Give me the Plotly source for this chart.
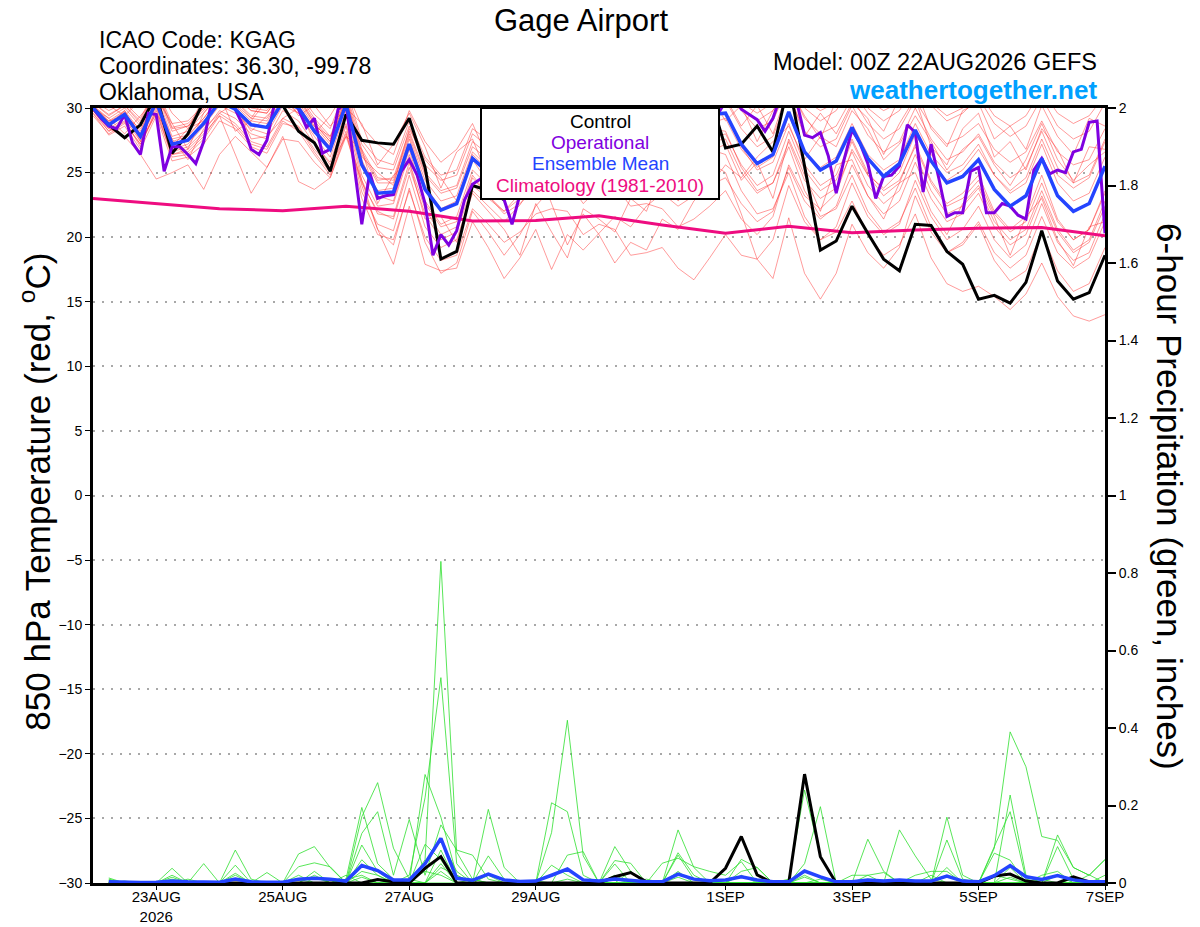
"""
GEFS meteogram - 850 hPa temperature and 6-hour precipitation at Gage Airport (KGAG)
"""
import plotly.graph_objects as go
import pandas as pd

# time axes: GEFS 6-hourly from the 00Z analysis, GFS operational 3-hourly
times = pd.date_range('2026-08-22 00:00', periods=65, freq='6h')
op_times = pd.date_range('2026-08-22 00:00', periods=129, freq='3h')
precip_times = times[1:]
clim_times = pd.date_range('2026-08-22 00:00', periods=17, freq='1D')

tick_dates = ['2026-08-23', '2026-08-25', '2026-08-27', '2026-08-29',
              '2026-09-01', '2026-09-03', '2026-09-05', '2026-09-07']
tick_text = ['23AUG<br>2026', '25AUG', '27AUG', '29AUG', '1SEP', '3SEP', '5SEP', '7SEP']

# 850 hPa temperature (C)
control_temp = [30.0, 28.7, 27.7, 28.7, 31.0, 26.5, 28.0, 30.5, 31.5, 31.0, 31.5, 31.0, 30.2,
                28.2, 27.3, 25.1, 29.5, 27.5, 27.3, 27.2, 29.2, 25.4, 18.3, 18.9, 24.0, 23.6,
                22.9, 24.5, 27.0, 29.0, 30.5, 28.0, 29.5, 30.5, 29.0, 30.5, 31.0, 29.5, 30.0,
                31.0, 26.9, 27.2, 28.6, 26.6, 32.0, 25.5, 19.0, 19.7, 22.4, 20.3, 18.3, 17.4,
                21.0, 20.9, 18.9, 17.9, 15.2, 15.5, 14.9, 16.5, 20.5, 16.6, 15.2, 15.7, 18.6]

mean_temp = [30.0, 28.7, 29.5, 27.8, 30.5, 27.2, 27.5, 28.8, 30.5, 29.9, 28.7, 28.5, 30.5,
             30.0, 28.2, 26.8, 30.3, 25.6, 23.4, 23.5, 27.2, 23.7, 22.1, 22.6, 26.1, 25.0,
             24.0, 25.0, 26.5, 27.5, 28.0, 27.0, 28.5, 29.0, 28.0, 29.0, 29.5, 28.5, 29.0,
             29.5, 29.6, 27.2, 25.7, 26.4, 29.7, 26.6, 25.2, 25.9, 28.5, 26.1, 24.7, 25.7,
             28.3, 25.9, 24.2, 24.7, 26.0, 23.7, 22.4, 23.2, 26.1, 23.2, 22.0, 22.6, 25.5]

oper_temp = [30.0, 29.2, 28.6, 28.4, 29.5, 27.3, 26.4, 29.6, 29.5, 25.1, 27.0, 27.0, 26.4,
             25.7, 27.4, 30.5, 31.0, 31.0, 29.9, 28.6, 26.8, 26.4, 27.5, 30.5, 31.0, 31.0,
             29.9, 28.5, 29.2, 26.5, 26.8, 29.9, 30.4, 25.8, 21.0, 25.0, 23.0, 23.2, 23.3,
             25.1, 26.0, 24.8, 22.6, 18.6, 20.2, 19.4, 20.5, 22.9, 24.1, 24.5, 24.0, 23.6,
             22.9, 21.0, 23.3, 24.5, 25.5, 26.0, 27.0, 25.5, 26.5, 28.0, 29.0, 27.5, 26.5,
             27.0, 28.5, 29.5, 30.5, 29.0, 28.0, 28.5, 29.5, 30.5, 31.0, 30.0, 29.0, 28.0,
             28.5, 29.5, 30.5, 31.0, 29.9, 29.5, 29.1, 28.2, 29.2, 31.0, 31.0, 30.5, 27.9,
             27.7, 28.1, 26.3, 23.4, 26.0, 28.3, 27.3, 25.7, 23.0, 24.7, 24.8, 25.5, 28.7,
             28.1, 23.5, 27.2, 24.5, 21.6, 21.9, 21.9, 25.1, 25.4, 21.9, 21.9, 22.6, 22.4,
             21.7, 21.4, 25.2, 26.1, 24.9, 25.2, 25.0, 26.6, 26.8, 28.9, 29.0, 20.3]

clim_temp = [23.0, 22.6, 22.2, 22.05, 22.4, 22.0, 21.25, 21.3, 21.65, 20.95, 20.3, 20.85,
             20.35, 20.55, 20.7, 20.75, 20.1]

# ensemble members (subset of the 30 perturbations)
member_temps = [
    [30.4, 29.5, 30.2, 29.0, 31.5, 28.5, 28.8, 30.0, 31.5, 31.0, 30.0, 29.8, 31.8, 31.2, 29.5, 28.4,
     31.6, 27.5, 26.0, 25.6, 29.0, 26.2, 24.8, 25.2, 28.4, 27.5, 26.8, 27.8, 29.0, 30.2, 30.8, 29.8,
     31.0, 31.5, 30.5, 31.2, 31.8, 30.6, 31.2, 31.5, 31.6, 29.8, 28.4, 29.0, 31.8, 29.2, 28.0, 28.6,
     30.8, 28.8, 27.6, 28.4, 30.6, 28.6, 27.2, 27.8, 28.8, 26.8, 25.8, 26.6, 29.0, 26.6, 25.6, 26.0, 28.4],
    [29.6, 27.9, 28.6, 26.8, 29.4, 25.9, 26.2, 27.2, 29.0, 28.4, 27.0, 26.5, 28.8, 28.5, 26.6, 25.0,
     28.6, 23.5, 21.0, 20.5, 24.8, 20.8, 19.2, 19.8, 23.6, 22.4, 21.2, 22.5, 24.4, 25.8, 26.6, 25.6,
     27.5, 28.4, 27.6, 28.8, 29.6, 28.8, 29.5, 30.2, 30.6, 28.4, 27.0, 27.8, 31.0, 28.2, 27.0, 27.6,
     30.2, 27.9, 26.6, 27.4, 30.0, 27.6, 26.0, 26.6, 28.0, 25.8, 24.6, 25.4, 28.2, 25.4, 24.2, 24.8, 27.6],
    [29.8, 28.2, 29.0, 27.0, 30.0, 26.4, 26.6, 27.8, 29.6, 28.8, 27.4, 27.0, 29.2, 28.6, 26.8, 25.4,
     28.8, 24.0, 20.6, 19.4, 23.8, 19.6, 17.2, 18.0, 22.0, 20.4, 18.6, 20.2, 22.4, 23.8, 24.6, 23.4,
     25.2, 26.0, 25.0, 26.2, 27.0, 26.0, 26.8, 27.6, 28.0, 25.6, 24.0, 24.8, 28.2, 25.2, 23.6, 24.4,
     27.4, 24.8, 23.2, 24.2, 27.2, 24.4, 22.6, 23.4, 24.8, 22.0, 20.6, 21.6, 24.8, 21.4, 19.8, 20.6, 23.6],
    [30.0, 28.8, 29.6, 28.0, 30.6, 27.4, 27.8, 29.2, 30.8, 30.2, 29.0, 28.8, 30.8, 30.2, 28.4, 27.0,
     30.4, 25.8, 23.6, 23.8, 27.6, 24.0, 22.2, 22.8, 26.4, 25.2, 24.0, 25.2, 26.8, 27.6, 28.0, 26.8,
     28.2, 28.4, 27.0, 27.6, 27.8, 26.4, 26.6, 26.8, 26.4, 23.6, 21.8, 22.2, 25.0, 21.6, 19.8, 20.4,
     22.8, 20.2, 18.6, 19.4, 21.8, 18.4, 16.4, 15.8, 16.2, 15.4, 14.4, 15.6, 18.0, 15.4, 13.9, 13.5, 14.0],
    [30.2, 29.0, 29.8, 28.2, 31.0, 27.8, 28.2, 29.6, 31.2, 30.6, 29.4, 29.2, 31.2, 30.6, 28.8, 27.4,
     30.8, 26.0, 23.2, 22.8, 26.8, 22.6, 20.8, 21.2, 24.8, 23.2, 21.8, 22.6, 23.8, 24.2, 24.4, 22.6,
     23.8, 24.0, 22.4, 22.6, 22.2, 20.8, 21.4, 22.4, 23.6, 21.4, 20.2, 21.6, 25.6, 23.2, 22.2, 23.4,
     26.8, 24.8, 23.8, 25.0, 28.0, 25.8, 24.4, 25.2, 26.8, 24.8, 23.6, 24.6, 27.6, 24.8, 23.8, 24.6, 27.4],
    [30.6, 29.8, 30.4, 29.2, 31.6, 28.8, 29.0, 30.2, 31.6, 31.2, 30.2, 30.0, 31.6, 31.0, 29.2, 27.8,
     31.0, 26.8, 24.6, 24.4, 28.0, 24.8, 23.4, 23.8, 27.0, 26.0, 25.0, 26.2, 27.8, 28.8, 29.4, 28.4,
     29.8, 30.4, 29.6, 30.4, 31.0, 30.2, 30.8, 31.4, 31.8, 30.0, 29.0, 29.8, 32.0, 30.0, 29.0, 29.8,
     31.8, 30.0, 29.0, 29.8, 31.8, 30.2, 29.0, 29.6, 30.8, 28.8, 27.8, 28.6, 30.8, 28.6, 27.6, 28.2, 30.4],
    [29.4, 28.0, 28.8, 27.2, 29.8, 26.2, 26.4, 27.6, 29.4, 28.6, 27.2, 26.8, 29.0, 28.2, 26.4, 24.8,
     28.2, 23.0, 20.2, 19.8, 23.6, 20.0, 18.2, 18.6, 22.2, 21.0, 19.6, 20.4, 21.8, 22.2, 22.0, 20.2,
     21.0, 20.6, 18.6, 18.8, 19.2, 17.6, 16.7, 18.4, 20.2, 18.6, 18.3, 19.8, 24.0, 21.2, 19.8, 20.8,
     24.2, 21.6, 20.2, 21.0, 24.4, 21.6, 19.8, 20.6, 22.4, 19.8, 18.4, 19.4, 22.6, 19.6, 18.2, 18.8, 21.8],
    [30.0, 28.6, 29.4, 27.6, 30.2, 26.8, 27.2, 28.6, 30.2, 29.6, 28.4, 28.0, 30.2, 29.6, 27.8, 26.2,
     29.8, 24.8, 22.4, 22.6, 26.4, 22.8, 21.0, 21.6, 25.2, 24.0, 23.0, 24.2, 25.6, 26.4, 26.8, 25.6,
     27.0, 27.2, 26.0, 26.6, 26.8, 25.4, 25.6, 25.8, 25.0, 21.8, 18.3, 16.8, 21.5, 17.2, 15.2, 17.2,
     21.0, 18.8, 17.6, 19.2, 23.2, 20.4, 18.8, 19.6, 21.2, 18.8, 17.6, 18.6, 21.6, 18.8, 17.6, 18.4, 21.2],
    [30.2, 29.2, 30.0, 28.6, 31.2, 28.2, 28.6, 29.8, 31.4, 30.8, 29.8, 29.6, 31.4, 30.8, 29.0, 27.6,
     31.2, 27.2, 25.4, 25.2, 28.6, 25.6, 24.4, 24.8, 28.0, 27.0, 26.2, 27.2, 28.4, 29.2, 29.6, 28.6,
     29.6, 30.0, 28.8, 29.4, 29.8, 28.6, 29.0, 29.4, 29.6, 27.0, 25.2, 25.8, 28.8, 25.6, 24.0, 24.8,
     27.6, 25.0, 23.6, 24.4, 27.0, 24.2, 22.4, 23.0, 24.4, 21.8, 20.4, 21.2, 24.2, 21.2, 19.8, 20.6, 23.4],
    [29.8, 28.4, 27.8, 26.4, 24.5, 25.0, 25.6, 23.7, 26.4, 27.8, 26.6, 25.4, 27.6, 27.4, 25.8, 24.6,
     27.8, 24.2, 22.0, 21.4, 25.4, 21.8, 19.8, 20.4, 24.0, 23.0, 22.0, 23.4, 25.0, 26.0, 26.6, 25.6,
     27.2, 27.8, 27.0, 28.0, 28.6, 27.6, 28.2, 28.8, 29.2, 26.8, 25.4, 26.2, 29.4, 26.6, 25.4, 26.2,
     28.8, 26.4, 25.2, 26.0, 28.8, 26.4, 25.0, 25.6, 27.2, 24.8, 23.4, 24.2, 27.2, 24.2, 22.8, 23.4, 26.2],
    [30.2, 28.9, 29.7, 28.0, 30.8, 27.6, 27.9, 29.2, 30.9, 30.3, 29.2, 29.0, 31.0, 30.4, 28.6, 27.2,
     30.6, 26.4, 24.2, 24.2, 27.8, 24.4, 22.8, 23.2, 26.6, 25.4, 24.4, 25.6, 27.2, 28.0, 28.4, 27.2,
     28.6, 29.0, 27.8, 28.4, 28.8, 27.6, 28.0, 28.4, 28.2, 25.4, 23.6, 24.2, 27.0, 23.6, 21.6, 22.2,
     24.8, 22.0, 20.4, 21.2, 23.8, 20.8, 18.8, 19.4, 21.0, 18.2, 16.6, 17.4, 20.4, 17.4, 15.8, 16.4, 19.2],
    [29.6, 28.2, 28.9, 27.2, 29.6, 26.4, 26.8, 28.0, 29.4, 26.4, 23.4, 25.4, 27.8, 24.3, 23.7, 24.6,
     28.0, 24.4, 21.8, 21.6, 25.8, 22.2, 20.2, 20.8, 24.6, 23.2, 22.0, 23.0, 24.6, 25.4, 25.8, 24.6,
     26.0, 26.6, 25.6, 26.6, 27.2, 26.2, 26.8, 27.4, 27.6, 25.0, 23.4, 24.2, 27.4, 24.4, 23.0, 23.8,
     26.6, 24.0, 22.6, 23.6, 26.4, 23.6, 21.8, 22.4, 23.8, 21.2, 19.8, 20.6, 23.6, 20.6, 19.0, 19.8, 22.8],
    [30.4, 29.4, 30.2, 28.8, 31.4, 28.4, 28.6, 30.0, 31.4, 31.0, 29.8, 29.6, 31.4, 30.8, 28.8, 27.4,
     30.8, 26.6, 24.4, 24.6, 28.2, 25.0, 23.6, 24.0, 27.4, 26.4, 25.6, 26.6, 28.2, 29.2, 29.8, 28.8,
     30.2, 30.8, 30.0, 30.8, 31.4, 30.6, 31.2, 31.8, 32.0, 30.4, 29.6, 30.4, 32.4, 30.6, 29.8, 30.4,
     32.2, 30.6, 29.8, 30.4, 32.0, 30.4, 29.4, 30.0, 31.2, 29.4, 28.6, 29.4, 31.4, 29.6, 28.8, 29.4, 31.0],
    [29.8, 28.4, 29.2, 27.4, 30.2, 26.6, 27.0, 28.2, 29.8, 29.2, 28.0, 27.6, 29.8, 29.0, 27.2, 25.8,
     29.4, 24.4, 20.6, 17.9, 22.4, 17.9, 17.4, 17.6, 21.2, 19.2, 16.8, 18.4, 20.6, 17.5, 20.2, 19.0,
     20.3, 21.6, 20.8, 22.4, 23.4, 22.4, 23.2, 24.0, 24.6, 22.6, 21.2, 22.0, 25.4, 22.8, 21.4, 22.4,
     25.6, 23.2, 21.8, 22.8, 25.8, 23.0, 21.2, 21.8, 23.4, 20.8, 19.4, 20.2, 23.2, 20.4, 18.8, 19.6, 22.4],
    [30.0, 29.2, 28.0, 29.4, 30.8, 28.8, 26.8, 29.6, 31.0, 28.2, 29.0, 30.6, 31.2, 29.4, 30.2, 28.6,
     30.0, 28.8, 25.6, 27.2, 29.6, 27.0, 23.8, 26.6, 27.6, 24.6, 27.8, 23.8, 26.8, 29.8, 26.2, 28.6,
     30.6, 27.4, 25.8, 28.4, 30.2, 26.6, 29.4, 31.0, 29.0, 30.2, 27.4, 29.8, 31.2, 27.8, 29.6, 28.0,
     30.4, 29.2, 26.4, 28.8, 30.8, 27.0, 25.6, 28.4, 29.6, 26.2, 27.4, 25.2, 28.4, 26.8, 24.2, 27.0, 26.8],
    [29.8, 29.0, 29.4, 28.4, 30.4, 27.0, 28.4, 29.0, 30.6, 30.0, 28.2, 29.4, 30.6, 29.6, 28.6, 27.8,
     30.0, 26.2, 25.0, 24.0, 28.4, 26.0, 24.6, 22.8, 26.0, 24.2, 25.4, 24.0, 25.8, 22.6, 19.4, 21.8,
     20.2, 18.0, 19.6, 19.0, 21.4, 20.6, 22.8, 24.0, 25.6, 24.6, 26.2, 27.4, 28.6, 26.0, 27.8, 27.0,
     29.8, 28.4, 26.0, 27.2, 29.4, 27.4, 25.2, 26.8, 27.8, 25.6, 24.0, 26.0, 28.8, 26.0, 24.4, 25.6, 26.6],
    [30.2, 28.6, 29.8, 27.4, 29.6, 27.6, 26.0, 28.4, 29.6, 30.4, 27.6, 27.8, 29.2, 30.0, 27.4, 25.6,
     27.8, 26.8, 22.6, 24.8, 25.8, 21.4, 21.6, 19.6, 23.4, 22.0, 20.6, 18.6, 22.6, 20.4, 18.4, 22.2,
     21.4, 20.4, 23.0, 22.0, 25.2, 22.8, 24.0, 26.6, 27.2, 24.4, 25.8, 23.0, 27.6, 24.8, 22.0, 25.6,
     26.0, 23.2, 21.4, 24.2, 25.0, 22.0, 20.2, 22.6, 24.0, 21.6, 18.6, 21.6, 23.0, 19.8, 17.8, 20.8, 21.2],
    [30.6, 30.2, 29.4, 30.6, 31.8, 29.6, 28.4, 30.8, 32.0, 30.6, 29.2, 31.0, 32.2, 30.0, 28.0, 29.4,
     31.4, 28.6, 27.2, 26.4, 29.8, 27.4, 25.8, 26.8, 28.8, 26.0, 28.2, 27.2, 30.0, 28.4, 26.8, 29.6,
     31.2, 29.0, 27.8, 30.6, 31.6, 28.8, 30.4, 32.0, 30.8, 28.6, 30.2, 28.0, 31.6, 29.4, 27.6, 30.6,
     31.4, 29.6, 28.2, 30.8, 31.6, 28.4, 27.0, 29.8, 30.4, 27.6, 28.6, 26.8, 30.2, 27.8, 26.4, 29.2, 28.6],
]

# 6-hour precipitation (inches), first value valid 06Z 22AUG
control_precip = [0, 0, 0, 0, 0, 0, 0, 0, 0, 0, 0, 0, 0, 0, 0, 0,
                  0, 0.009, 0.003, 0, 0.038, 0.068, 0, 0, 0, 0, 0, 0, 0, 0, 0, 0,
                  0.016, 0.027, 0.003, 0, 0, 0, 0, 0.038, 0.12, 0.021, 0, 0, 0.281, 0.068, 0, 0,
                  0, 0, 0, 0, 0, 0, 0, 0, 0.018, 0.023, 0.005, 0, 0, 0.016, 0.003, 0]

mean_precip = [0.003, 0.001, 0.001, 0.002, 0.005, 0.003, 0.003, 0.002, 0.010, 0.003, 0.002, 0.002, 0.010, 0.012, 0.010, 0.005,
               0.045, 0.032, 0.008, 0.008, 0.050, 0.115, 0.012, 0.007, 0.023, 0.008, 0.004, 0.005, 0.020, 0.036, 0.008, 0.005,
               0.010, 0.006, 0.003, 0.003, 0.023, 0.010, 0.006, 0.008, 0.016, 0.008, 0.003, 0.003, 0.031, 0.016, 0.003, 0.003,
               0.008, 0.005, 0.008, 0.005, 0.005, 0.018, 0.005, 0.003, 0.019, 0.045, 0.016, 0.009, 0.019, 0.008, 0.003, 0.003]

member_precips = [
    [0.005, 0, 0, 0, 0, 0, 0, 0, 0, 0, 0, 0, 0, 0, 0, 0,
     0, 0, 0, 0, 0.06, 0.83, 0.08, 0.01, 0, 0, 0, 0, 0, 0, 0, 0,
     0, 0, 0, 0, 0, 0, 0, 0, 0, 0, 0, 0, 0, 0, 0, 0,
     0, 0, 0, 0, 0, 0, 0, 0, 0.09, 0.39, 0.30, 0.12, 0.11, 0.04, 0.02, 0.06],
    [0, 0, 0, 0, 0, 0, 0, 0, 0, 0, 0, 0, 0, 0, 0, 0,
     0, 0, 0, 0.02, 0.22, 0.53, 0.05, 0, 0, 0, 0, 0, 0.13, 0.42, 0.07, 0,
     0, 0, 0, 0, 0, 0, 0, 0, 0, 0, 0, 0.01, 0.24, 0.07, 0, 0,
     0, 0, 0, 0, 0, 0, 0, 0, 0, 0, 0, 0, 0, 0, 0, 0],
    [0, 0, 0, 0, 0.01, 0, 0, 0, 0, 0, 0, 0, 0, 0, 0, 0.01,
     0.195, 0.05, 0.01, 0, 0.28, 0.17, 0.02, 0, 0.19, 0.04, 0, 0, 0, 0, 0, 0,
     0, 0, 0, 0, 0.137, 0.04, 0, 0, 0, 0, 0, 0, 0, 0, 0, 0,
     0, 0, 0, 0, 0, 0.17, 0.02, 0, 0, 0, 0, 0, 0, 0, 0, 0],
    [0, 0, 0, 0, 0, 0, 0, 0, 0, 0, 0, 0, 0.075, 0.094, 0.04, 0,
     0.171, 0.259, 0.09, 0.01, 0, 0, 0, 0, 0, 0, 0, 0, 0.207, 0.184, 0.02, 0,
     0, 0, 0, 0, 0, 0, 0, 0, 0, 0, 0, 0, 0, 0, 0, 0,
     0, 0, 0.137, 0.07, 0.01, 0, 0, 0, 0, 0, 0, 0, 0, 0, 0, 0],
    [0, 0, 0, 0, 0, 0, 0, 0, 0.085, 0.01, 0, 0, 0, 0, 0, 0,
     0.128, 0.184, 0.02, 0.164, 0.02, 0.15, 0.085, 0.072, 0.01, 0, 0, 0, 0, 0, 0, 0,
     0.094, 0.03, 0, 0, 0, 0, 0, 0, 0, 0, 0, 0, 0, 0, 0, 0,
     0.113, 0.03, 0, 0, 0, 0, 0, 0, 0, 0, 0, 0, 0, 0, 0, 0],
    [0, 0, 0, 0, 0.038, 0, 0.05, 0, 0.046, 0, 0, 0, 0, 0, 0, 0,
     0.098, 0.03, 0, 0, 0, 0.085, 0, 0, 0.07, 0.01, 0, 0, 0, 0.072, 0.081, 0,
     0, 0, 0, 0, 0, 0, 0, 0, 0.061, 0.04, 0, 0, 0, 0, 0, 0,
     0, 0, 0, 0, 0, 0, 0, 0, 0, 0.227, 0.02, 0, 0.124, 0.04, 0.02, 0.061],
    [0.013, 0, 0, 0, 0, 0, 0, 0, 0.025, 0, 0.027, 0, 0.042, 0.052, 0.042, 0,
     0, 0, 0, 0, 0.1, 0.06, 0, 0, 0, 0, 0, 0, 0, 0, 0, 0,
     0, 0, 0, 0, 0.078, 0.02, 0, 0, 0, 0, 0, 0, 0.05, 0.197, 0, 0,
     0, 0, 0, 0, 0, 0, 0, 0, 0.094, 0.184, 0.01, 0, 0, 0, 0.021, 0],
    [0.008, 0, 0, 0, 0.02, 0, 0, 0, 0.02, 0, 0, 0, 0, 0.03, 0, 0,
     0.06, 0.02, 0, 0, 0.05, 0.11, 0.03, 0, 0, 0, 0, 0, 0.046, 0.02, 0, 0,
     0.058, 0.051, 0, 0, 0.072, 0.01, 0, 0, 0, 0, 0, 0, 0, 0, 0, 0,
     0, 0, 0, 0, 0, 0.111, 0.01, 0, 0.077, 0.059, 0, 0, 0.094, 0.01, 0, 0],
    [0.005, 0, 0, 0, 0.015, 0, 0, 0, 0, 0, 0, 0, 0.02, 0, 0, 0,
     0.03, 0.02, 0, 0, 0, 0.03, 0, 0, 0.02, 0, 0, 0, 0, 0, 0, 0,
     0.049, 0, 0, 0.051, 0.064, 0.042, 0.03, 0.02, 0.055, 0, 0, 0, 0, 0, 0, 0,
     0.02, 0.027, 0, 0, 0, 0.04, 0, 0, 0, 0.04, 0, 0.02, 0.03, 0, 0, 0],
    [0, 0.005, 0, 0, 0, 0, 0, 0, 0.01, 0, 0, 0, 0, 0.02, 0, 0.01,
     0.02, 0, 0.01, 0, 0, 0.04, 0.02, 0, 0, 0, 0, 0, 0, 0, 0, 0,
     0, 0.03, 0, 0, 0.03, 0, 0, 0, 0.03, 0.04, 0, 0, 0.02, 0, 0, 0.02,
     0.02, 0, 0, 0.02, 0.03, 0.03, 0, 0, 0, 0, 0, 0, 0, 0.01, 0, 0.02],
    [0, 0, 0, 0, 0, 0.01, 0, 0, 0, 0.005, 0, 0, 0.01, 0, 0, 0.02,
     0, 0.01, 0, 0.005, 0.03, 0.02, 0, 0, 0, 0, 0, 0.005, 0, 0, 0, 0,
     0.02, 0, 0.01, 0, 0, 0, 0, 0, 0.02, 0, 0, 0, 0, 0.01, 0, 0,
     0, 0, 0, 0, 0.02, 0, 0, 0, 0.02, 0.01, 0, 0, 0.02, 0, 0, 0],
    [0.01, 0, 0, 0, 0, 0, 0, 0, 0, 0, 0, 0, 0.01, 0.015, 0, 0,
     0.015, 0, 0, 0, 0, 0.05, 0, 0.01, 0, 0, 0, 0, 0, 0.01, 0, 0,
     0.01, 0, 0, 0, 0.015, 0, 0, 0, 0, 0, 0, 0, 0.015, 0, 0, 0,
     0.01, 0, 0, 0, 0, 0, 0, 0, 0, 0.015, 0, 0.01, 0, 0, 0, 0],
]

FONT = 'Liberation Sans, Arial, Helvetica, sans-serif'
fig = go.Figure()

# ensemble spaghetti - temperature (left axis)
for vals in member_temps:
    fig.add_trace(go.Scatter(x=times[:len(vals)], y=vals, mode='lines',
                             line=dict(color='rgba(255,45,45,0.6)', width=0.8),
                             hoverinfo='skip'))

# ensemble spaghetti - precipitation (right axis)
for vals in member_precips:
    fig.add_trace(go.Scatter(x=precip_times[:len(vals)], y=vals, mode='lines', yaxis='y2',
                             line=dict(color='#2ee02e', width=0.8),
                             hoverinfo='skip'))

fig.add_trace(go.Scatter(x=clim_times, y=clim_temp, mode='lines', name='Climatology (1981-2010)',
                         line=dict(color='#ee0c80', width=3)))
fig.add_trace(go.Scatter(x=times, y=control_temp, mode='lines', name='Control',
                         line=dict(color='black', width=3)))
fig.add_trace(go.Scatter(x=op_times[:len(oper_temp)], y=oper_temp, mode='lines', name='Operational',
                         line=dict(color='#7f00e0', width=3)))
fig.add_trace(go.Scatter(x=times, y=mean_temp, mode='lines', name='Ensemble Mean',
                         line=dict(color='#2444ff', width=3.5)))

fig.add_trace(go.Scatter(x=precip_times, y=control_precip, mode='lines', yaxis='y2',
                         line=dict(color='black', width=3)))
fig.add_trace(go.Scatter(x=precip_times, y=mean_precip, mode='lines', yaxis='y2',
                         line=dict(color='#2444ff', width=3.5)))

fig.update_layout(
    width=1200, height=927,
    margin=dict(l=93, r=95, t=108, b=44),
    paper_bgcolor='white',
    plot_bgcolor='white',
    showlegend=False,
    font=dict(family=FONT, color='black'),
    xaxis=dict(range=[times[0], times[-1]], tickvals=tick_dates, ticktext=tick_text,
               automargin=False, showgrid=False, zeroline=False, showline=True,
               linecolor='black', linewidth=3, mirror=True, ticks='outside', ticklen=4,
               tickcolor='black', ticklabelstandoff=-6, tickfont=dict(size=15)),
    yaxis=dict(range=[-30, 30], tick0=-30, dtick=5, automargin=False, showgrid=True,
               gridcolor='#a8a8a8', griddash='2px,7px', gridwidth=1.5, zeroline=False,
               showline=True, linecolor='black', linewidth=3, ticks='outside', ticklen=5,
               tickcolor='black', tickfont=dict(size=14)),
    yaxis2=dict(range=[0, 2], tick0=0, dtick=0.2, overlaying='y', side='right',
                automargin=False, showgrid=False, zeroline=False, showline=True,
                linecolor='black', linewidth=3, ticks='outside', ticklen=8, tickwidth=2,
                tickcolor='black', tickfont=dict(size=14)),
)

# legend box drawn over the lines
fig.add_shape(type='rect', xref='paper', yref='paper', x0=0.3834, x1=0.6186, y0=0.8826, y1=1.0,
              fillcolor='white', line=dict(color='black', width=2), layer='above')

legend_rows = [('Control', 'black', 0.9832), ('Operational', '#7f00e0', 0.9561),
               ('Ensemble Mean', '#2444ff', 0.929), ('Climatology (1981-2010)', '#ee0c80', 0.9006)]
for label, color, ypos in legend_rows:
    fig.add_annotation(text=label, xref='paper', yref='paper', x=0.501, y=ypos,
                       showarrow=False, xanchor='center', yanchor='middle',
                       font=dict(size=19, color=color))

# titles and station info
fig.add_annotation(text='Gage Airport', xref='paper', yref='paper', x=0.482, y=1.1135,
                   showarrow=False, xanchor='center', yanchor='middle', font=dict(size=31))
for txt, ypos in [('ICAO Code: KGAG', 1.0877), ('Coordinates: 36.30, -99.78', 1.0542),
                  ('Oklahoma, USA', 1.0206)]:
    fig.add_annotation(text=txt, xref='paper', yref='paper', x=0.004, y=ypos,
                       showarrow=False, xanchor='left', yanchor='middle', font=dict(size=23))
fig.add_annotation(text='Model: 00Z 22AUG2026 GEFS', xref='paper', yref='paper', x=0.994, y=1.0595,
                   showarrow=False, xanchor='right', yanchor='middle', font=dict(size=23.5))
fig.add_annotation(text='<b>weathertogether.net</b>', xref='paper', yref='paper', x=0.994, y=1.0235,
                   showarrow=False, xanchor='right', yanchor='middle',
                   font=dict(size=26, color='#00a0ff'))

# axis titles
fig.add_annotation(text='850 hPa Temperature (red, <sup>o</sup>C)', xref='paper', yref='paper',
                   x=-0.0573, y=0.505, showarrow=False, textangle=-90,
                   xanchor='center', yanchor='middle', font=dict(size=35))
fig.add_annotation(text='6-hour Precipitation (green, inches)', xref='paper', yref='paper',
                   x=1.0642, y=0.498, showarrow=False, textangle=90,
                   xanchor='center', yanchor='middle', font=dict(size=35))

# drop the default 8px page margin so the figure fills the 1200x927 window
fig.write_html("out.html", config={'displayModeBar': False},
               post_script="document.body.style.margin = '0px';")
